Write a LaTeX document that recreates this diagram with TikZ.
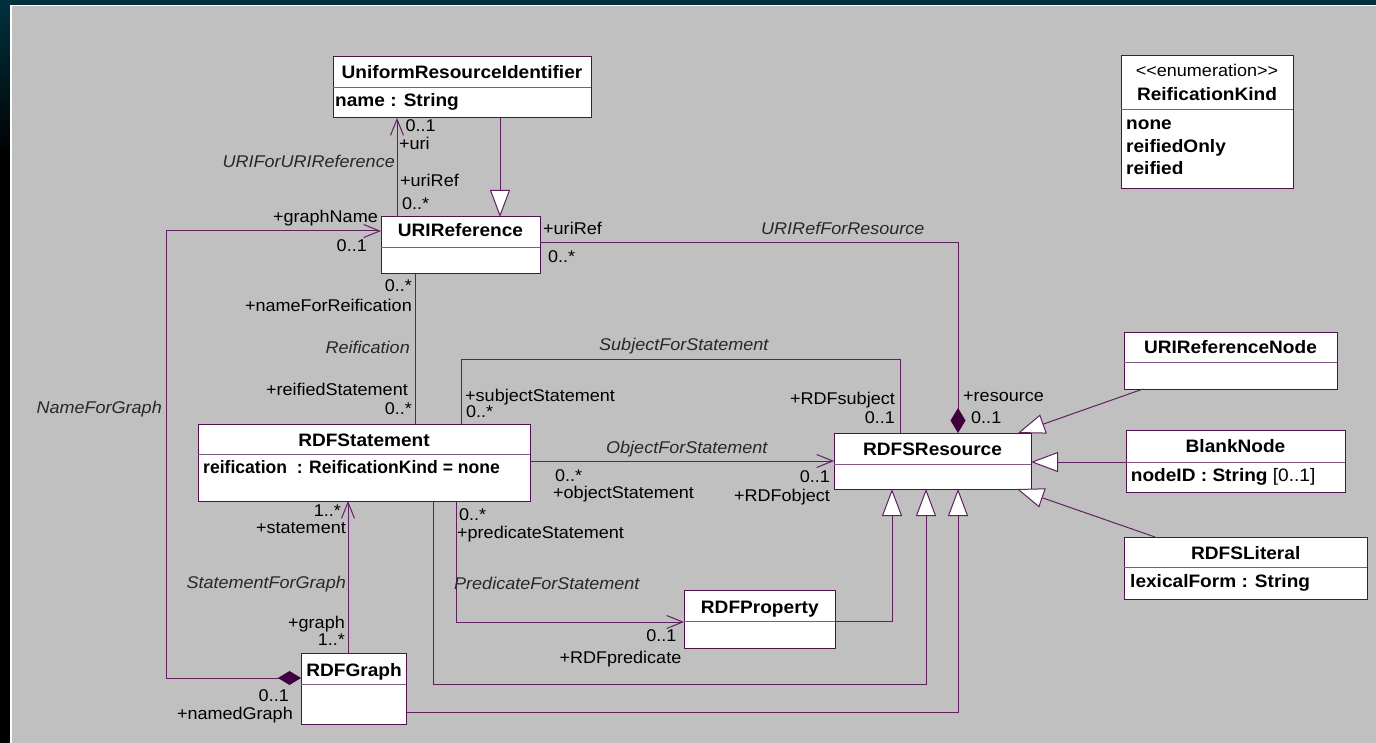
\documentclass[tikz,border=0pt]{standalone}
\usepackage{fontspec}
\setmainfont[FakeStretch=1.06]{Liberation Sans}
\usetikzlibrary{arrows.meta}
\definecolor{bg}{RGB}{192,192,192}
\definecolor{linec}{RGB}{96,32,96}
\definecolor{boxc}{RGB}{80,16,80}
\definecolor{diac}{RGB}{64,0,64}
\definecolor{frametop}{RGB}{0,48,62}
\definecolor{anamec}{RGB}{40,40,40}

\tikzset{
  cls/.style={draw=boxc, fill=white, line width=1pt, anchor=north west,
    inner sep=0pt, outer sep=0pt},
  divider/.style={draw=boxc!70!white, line width=0.9pt},
  assoc/.style={draw=linec, line width=1pt},
  barb/.style={-{Straight Barb[length=16pt,width=13pt]}},
  gen/.style={-{Triangle[length=27pt,width=20pt,fill=white]}},
  lbl/.style={inner sep=0pt, font=\fontsize{17}{20}\selectfont, text=black},
  aname/.style={inner sep=0pt, font=\fontsize{17}{20}\selectfont\itshape, text=anamec},
  ctitle/.style={inner sep=0pt, font=\fontsize{18}{21}\selectfont\bfseries, anchor=base},
  cattr/.style={inner sep=0pt, font=\fontsize{18}{21}\selectfont\bfseries, anchor=base west},
}

\begin{document}
\begin{tikzpicture}[x=1pt,y=-1pt]
\useasboundingbox (0,0) rectangle (1376,743);

% window frame and canvas
\fill[black] (0,0) rectangle (1376,743);
\fill[frametop] (0,0) rectangle (1376,5);
\shade[top color=frametop, bottom color=black] (0,5) rectangle (10,160);
\fill[white] (10,5) rectangle (1376,743);
\fill[bg] (11.5,6.5) rectangle (1376,743);

% ---------- classes ----------
\node[cls, minimum width=258pt, minimum height=61pt]  (uri)     at (333,57)  {};
\node[cls, minimum width=159pt, minimum height=57pt]  (uriref)  at (381,217) {};
\node[cls, minimum width=172pt, minimum height=133pt] (rk)      at (1121,56) {};
\node[cls, minimum width=332pt, minimum height=77pt]  (stmt)    at (198,424) {};
\node[cls, minimum width=197pt, minimum height=56pt]  (res)     at (834,433) {};
\node[cls, minimum width=213pt, minimum height=57pt]  (urinode) at (1124,332) {};
\node[cls, minimum width=219pt, minimum height=62pt]  (blank)   at (1126,430) {};
\node[cls, minimum width=243pt, minimum height=62pt]  (lit)     at (1124,537) {};
\node[cls, minimum width=151pt, minimum height=58pt]  (prop)    at (684,590) {};
\node[cls, minimum width=105pt, minimum height=71pt]  (graph)   at (301,653) {};

% compartment dividers
\draw[divider] (uri.west |- 0,87)      -- (uri.east |- 0,87);
\draw[divider] (uriref.west |- 0,247)  -- (uriref.east |- 0,247);
\draw[divider] (rk.west |- 0,109)      -- (rk.east |- 0,109);
\draw[divider] (stmt.west |- 0,454)    -- (stmt.east |- 0,454);
\draw[divider] (res.west |- 0,464)     -- (res.east |- 0,464);
\draw[divider] (urinode.west |- 0,362) -- (urinode.east |- 0,362);
\draw[divider] (blank.west |- 0,462)   -- (blank.east |- 0,462);
\draw[divider] (lit.west |- 0,567)     -- (lit.east |- 0,567);
\draw[divider] (prop.west |- 0,621)    -- (prop.east |- 0,621);
\draw[divider] (graph.west |- 0,684)   -- (graph.east |- 0,684);

% class names and attributes
\node[ctitle] (uri-t) at (462,78.3) {UniformResourceIdentifier};
\node[cattr]  (uri-a) at (335,106.7) {name : String};
\node[ctitle] (uriref-t) at (460.5,236.5) {URIReference};
\node[inner sep=0pt, font=\fontsize{17}{20}\selectfont, anchor=base] (rk-s) at (1207,76.7) {<{}<enumeration>{}>};
\node[ctitle] (rk-t) at (1207,100.7) {ReificationKind};
\node[cattr]  (rk-a1) at (1126,130) {none};
\node[cattr]  (rk-a2) at (1126,152.7) {reifiedOnly};
\node[cattr]  (rk-a3) at (1126,175) {reified};
\node[ctitle] (stmt-t) at (364,446.7) {RDFStatement};
\node[cattr]  (stmt-a) at (203,473.3) {\scalebox{0.92}[1]{reification~ : ReificationKind = none}};
\node[ctitle] (res-t) at (932.5,455) {RDFSResource};
\node[ctitle] (urinode-t) at (1230.5,353.3) {URIReferenceNode};
\node[ctitle] (blank-t) at (1235.5,452.7) {BlankNode};
\node[cattr]  (blank-a) at (1130.7,481.7) {nodeID : String {\mdseries[0..1]}};
\node[ctitle] (lit-t) at (1245.7,559.3) {RDFSLiteral};
\node[cattr]  (lit-a) at (1130,587.3) {lexicalForm : String};
\node[ctitle] (prop-t) at (759.8,613.3) {RDFProperty};
\node[ctitle] (graph-t) at (354,676.7) {RDFGraph};

% ---------- connectors ----------
% URIForURIReference
\draw[assoc, barb] (uriref.north -| 397,0) -- (uri.south -| 397,0);
% URIReference specialises UniformResourceIdentifier
\draw[assoc, gen] (uri.south -| 500,0) -- (uriref.north -| 500,0);
% NameForGraph
\draw[assoc, {Diamond[length=23pt,width=14pt,color=diac]}-{Straight Barb[length=16pt,width=13pt]}]
  (graph.west |- 0,678) -- (166,678) -- (166,231) -- (uriref.west |- 0,231);
% URIRefForResource
\draw[assoc, -{Diamond[length=25pt,width=15pt,color=diac]}]
  (uriref.east |- 0,243) -- (958,243) -- (res.north -| 958,0);
% Reification
\draw[assoc] (uriref.south -| 415,0) -- (stmt.north -| 415,0);
% SubjectForStatement
\draw[assoc] (stmt.north -| 461,0) -- (461,359) -- (900,359) -- (res.north -| 900,0);
% ObjectForStatement
\draw[assoc, barb] (stmt.east |- 0,461) -- (res.west |- 0,461);
% StatementForGraph
\draw[assoc, barb] (graph.north -| 348,0) -- (stmt.south -| 348,0);
% PredicateForStatement
\draw[assoc, barb] (stmt.south -| 456,0) -- (456,622) -- (prop.west |- 0,622);
% generalisations into RDFSResource
\draw[assoc, gen] (stmt.south -| 433,0) -- (433,684) -- (926,684) -- (res.south -| 926,0);
\draw[assoc, gen] (graph.east |- 0,712) -- (958,712) -- (res.south -| 958,0);
\draw[assoc, gen] (prop.east |- 0,621) -- (892,621) -- (res.south -| 892,0);
\draw[assoc, gen] (blank.west |- 0,462) -- (res.east |- 0,462);
\draw[assoc, gen] (urinode.south -| 1143,0) -- (res.north -| 1018,0);
\draw[assoc, gen] (lit.north -| 1155,0) -- (res.south -| 1017,0);

% ---------- association and role labels ----------
\node[lbl, anchor=base west] (l01) at (405.5,131.5) {0..1};
\node[lbl, anchor=base west] (l02) at (399,150) {+uri};
\node[aname, anchor=base east] (l03) at (395,168) {URIForURIReference};
\node[lbl, anchor=base west] (l04) at (400,186.5) {+uriRef};
\node[lbl, anchor=base west] (l05) at (402,210) {0..*};
\node[lbl, anchor=base east] (l06) at (378,223) {+graphName};
\node[lbl, anchor=base east] (l07) at (367,251.5) {0..1};
\node[lbl, anchor=base west] (l08) at (543,235) {+uriRef};
\node[lbl, anchor=base west] (l09) at (548,263) {0..*};
\node[aname, anchor=base west] (l10) at (761,235) {URIRefForResource};
\node[lbl, anchor=base east] (l11) at (412,291.5) {0..*};
\node[lbl, anchor=base east] (l12) at (412,311.5) {+nameForReification};
\node[aname, anchor=base east] (l13) at (410,353) {Reification};
\node[lbl, anchor=base east] (l14) at (408,395) {+reifiedStatement};
\node[lbl, anchor=base east] (l15) at (412,414) {0..*};
\node[aname, anchor=base east] (l16) at (162,413) {NameForGraph};
\node[aname, anchor=base west] (l17) at (599,350) {SubjectForStatement};
\node[lbl, anchor=base west] (l18) at (465,401.5) {+subjectStatement};
\node[lbl, anchor=base west] (l19) at (466,417) {0..*};
\node[lbl, anchor=base east] (l20) at (895,404) {+RDFsubject};
\node[lbl, anchor=base east] (l21) at (895,423) {0..1};
\node[lbl, anchor=base west] (l22) at (963,401.5) {+resource};
\node[lbl, anchor=base west] (l23) at (971,423) {0..1};
\node[aname, anchor=base west] (l24) at (606,453) {ObjectForStatement};
\node[lbl, anchor=base west] (l25) at (555,481.5) {0..*};
\node[lbl, anchor=base west] (l26) at (553,498) {+objectStatement};
\node[lbl, anchor=base east] (l27) at (830,482.5) {0..1};
\node[lbl, anchor=base east] (l28) at (830,501.5) {+RDFobject};
\node[lbl, anchor=base east] (l29) at (341,516.5) {1..*};
\node[lbl, anchor=base east] (l30) at (346,533) {+statement};
\node[lbl, anchor=base west] (l31) at (459,520) {0..*};
\node[lbl, anchor=base west] (l32) at (457,538) {+predicateStatement};
\node[aname, anchor=base east] (l33) at (346,588) {StatementForGraph};
\node[aname, anchor=base west] (l34) at (454,589) {PredicateForStatement};
\node[lbl, anchor=base east] (l35) at (345,628) {+graph};
\node[lbl, anchor=base east] (l36) at (345,645) {1..*};
\node[lbl, anchor=base east] (l37) at (676.5,641.5) {0..1};
\node[lbl, anchor=base east] (l38) at (681.5,663) {+RDFpredicate};
\node[lbl, anchor=base east] (l39) at (289,701.5) {0..1};
\node[lbl, anchor=base east] (l40) at (293,719) {+namedGraph};
\end{tikzpicture}
\end{document}
